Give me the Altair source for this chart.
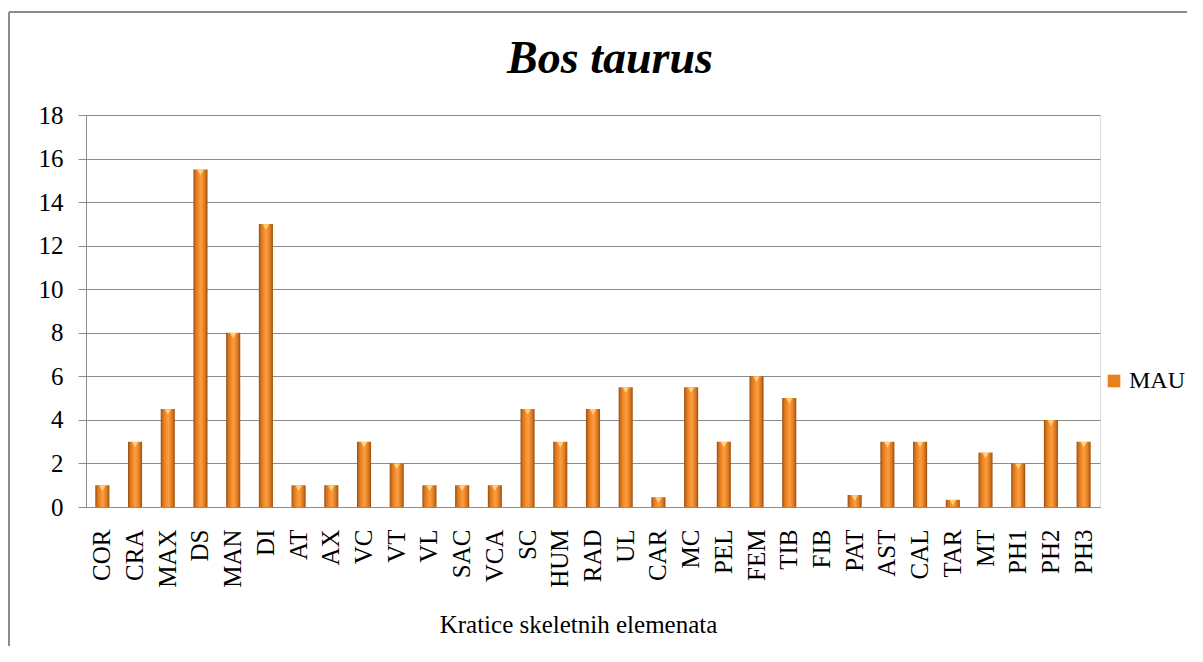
import altair as alt
import pandas as pd

categories = ["COR", "CRA", "MAX", "DS", "MAN", "DI", "AT", "AX", "VC", "VT", "VL",
              "SAC", "VCA", "SC", "HUM", "RAD", "UL", "CAR", "MC", "PEL", "FEM", "TIB",
              "FIB", "PAT", "AST", "CAL", "TAR", "MT", "PH1", "PH2", "PH3"]
mau = [1, 3, 4.5, 15.5, 8, 13, 1, 1, 3, 2, 1,
       1, 1, 4.5, 3, 4.5, 5.5, 0.45, 5.5, 3, 6, 5,
       0, 0.55, 3, 3, 0.33, 2.5, 2, 4, 3]
series_name = "MAU"
y_ticks = [0, 2, 4, 6, 8, 10, 12, 14, 16, 18]
chart_title = "Bos taurus"

df = pd.DataFrame({"cat": categories, "val": mau, "series": series_name})

FONT = "Liberation Serif"
GRID = "#8c8c8c"

x_enc = alt.X("cat:N", sort=categories,
              scale=alt.Scale(paddingInner=0.57, paddingOuter=0.285),
              axis=alt.Axis(title="Kratice skeletnih elemenata", labelAngle=-90,
                            labelFont=FONT, labelFontSize=25, labelColor="black",
                            labelPadding=22, ticks=False, domainColor=GRID,
                            titleFont=FONT, titleFontSize=25, titleFontWeight="normal",
                            titleColor="black", titleX=492, titleY=125,
                            titleBaseline="alphabetic", titleAlign="center"))
y_enc = alt.Y("val:Q", scale=alt.Scale(domain=[0, 18], nice=False),
              axis=alt.Axis(title=None, values=y_ticks, labelFont=FONT, labelFontSize=25,
                            labelColor="black", labelPadding=15, tickSize=8,
                            tickColor=GRID, domainColor=GRID, gridColor=GRID,
                            grid=True, labelBaseline="middle"))

grad = alt.Gradient(gradient="linear", x1=0, x2=1, y1=0, y2=0, stops=[
    alt.GradientStop(color="#8f4a0e", offset=0),
    alt.GradientStop(color="#d8731c", offset=0.15),
    alt.GradientStop(color="#f7902e", offset=0.4),
    alt.GradientStop(color="#fa9d42", offset=0.55),
    alt.GradientStop(color="#e07a20", offset=0.8),
    alt.GradientStop(color="#9a500f", offset=1),
])

bars = alt.Chart(df).mark_bar(color=grad).encode(x=x_enc, y=y_enc)

tops = alt.Chart(df).transform_filter("datum.val > 0").mark_point(
    shape="triangle-down", filled=True, size=40, color="#ffd27a", opacity=1, yOffset=3
).encode(x=alt.X("cat:N", sort=categories), y=alt.Y("val:Q"))

legend_layer = alt.Chart(df).transform_filter("false").mark_square(size=170).encode(
    color=alt.Color("series:N", scale=alt.Scale(domain=[series_name], range=["#e8801e"]),
                    legend=alt.Legend(title=None, orient="none", legendX=1016, legendY=254,
                                      labelFont=FONT, labelFontSize=24, labelColor="black",
                                      symbolType="square", symbolSize=160, symbolOpacity=1,
                                      symbolStrokeWidth=0, padding=0, labelOffset=3))
)

single = pd.DataFrame({"t": [chart_title]})
title_text = alt.Chart(single).mark_text(
    font=FONT, fontSize=46, fontStyle="italic", fontWeight="bold", color="black",
    align="center", baseline="alphabetic"
).encode(text="t:N", x=alt.value(524), y=alt.value(-42))

top_border = alt.Chart(single).mark_rule(color="#8c8c8c", strokeWidth=2).encode(
    x=alt.value(-77), x2=alt.value(1130), y=alt.value(-103))
left_border = alt.Chart(single).mark_rule(color="#8c8c8c", strokeWidth=2).encode(
    x=alt.value(-77), y=alt.value(-103), y2=alt.value(560))

chart = alt.layer(bars, tops, legend_layer, title_text, top_border, left_border).properties(
    width=1014, height=392,
    autosize=alt.AutoSizeParams(type="none"),
    padding={"left": 78, "top": 107, "right": 87, "bottom": 139},
).configure_view(stroke=None).configure_legend(
    labelFont=FONT
).configure(background="white")

chart.save("out.html", embed_options={"renderer": "svg", "actions": False})
